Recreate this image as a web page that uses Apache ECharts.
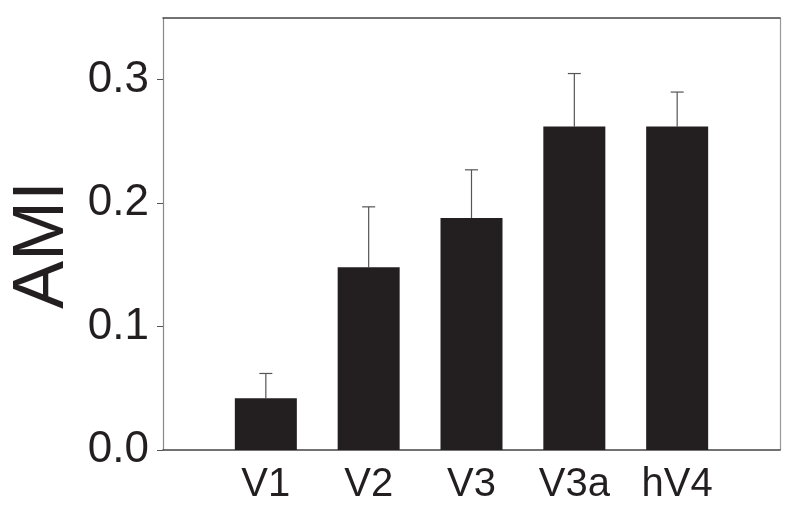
<!DOCTYPE html>
<html>
<head>
<meta charset="utf-8">
<script src="https://cdn.jsdelivr.net/npm/echarts@6/dist/echarts.min.js"></script>
<style>
  html, body { margin: 0; padding: 0; background: #fff; }
  #chart { width: 800px; height: 521px; }
</style>
</head>
<body>
<div id="chart"></div>
<script>
// data
const categories = ['', 'V1', 'V2', 'V3', 'V3a', 'hV4', ''];
const amiValues = ['-', 0.042, 0.148, 0.188, 0.262, 0.262, '-'];
const amiErrors = ['-', 0.020, 0.049, 0.039, 0.043, 0.028, '-'];
const yTicks = [0, 0.1, 0.2, 0.3];

const FONT = '"Liberation Sans", Arial, sans-serif';
const INK = '#231f20';

const chart = echarts.init(document.getElementById('chart'));

// error bar (upper whisker + cap) drawn from value and error
const errorData = [];
amiValues.forEach((v, i) => {
  if (v !== '-') errorData.push([i, v, v + amiErrors[i]]);
});

const renderError = (params, api) => {
  const base = api.coord([api.value(0), api.value(1)]);
  const top = api.coord([api.value(0), api.value(2)]);
  const half = 6.5;
  const style = { stroke: '#555', lineWidth: 1.2 };
  return {
    type: 'group',
    children: [
      { type: 'line', shape: { x1: base[0], y1: base[1], x2: top[0], y2: top[1] }, style },
      { type: 'line', shape: { x1: top[0] - half, y1: top[1], x2: top[0] + half, y2: top[1] }, style }
    ]
  };
};

chart.setOption({
  animation: false,
  grid: { left: 163, right: 20, top: 18, bottom: 71 },
  xAxis: [{
    type: 'category',
    data: categories,
    boundaryGap: false,
    axisLine: { lineStyle: { color: '#444', width: 1.5 } },
    axisTick: { show: false },
    axisLabel: { color: INK, fontSize: 40, fontFamily: FONT, margin: 15 },
    splitLine: { show: false }
  }, {
    type: 'category',
    position: 'top',
    data: categories,
    boundaryGap: false,
    axisLine: { show: true, onZero: false, lineStyle: { color: '#444', width: 1.5 } },
    axisTick: { show: false },
    axisLabel: { show: false }
  }],
  yAxis: [{
    type: 'value',
    min: 0,
    max: 0.35,
    interval: 0.1,
    axisLine: { show: true, lineStyle: { color: '#888', width: 1.2 } },
    axisTick: { show: true, length: 6, customValues: yTicks, lineStyle: { color: '#555' } },
    axisLabel: {
      customValues: yTicks,
      color: INK, fontSize: 44, fontFamily: FONT, margin: 14,
      formatter: v => v.toFixed(1)
    },
    splitLine: { show: false }
  }, {
    type: 'value',
    position: 'right',
    min: 0,
    max: 0.35,
    axisLine: { show: true, onZero: false, lineStyle: { color: '#999', width: 1.2 } },
    axisTick: { show: false },
    axisLabel: { show: false },
    splitLine: { show: false }
  }],
  graphic: [{
    type: 'text',
    x: 43,
    y: 245,
    rotation: Math.PI / 2,
    style: {
      text: 'AMI',
      fill: INK,
      font: '72px ' + FONT,
      align: 'center',
      verticalAlign: 'middle'
    }
  }],
  series: [{
    type: 'bar',
    data: amiValues,
    barWidth: 62,
    itemStyle: { color: INK },
    z: 2
  }, {
    type: 'custom',
    data: errorData,
    renderItem: renderError,
    z: 1
  }]
});
</script>
</body>
</html>
